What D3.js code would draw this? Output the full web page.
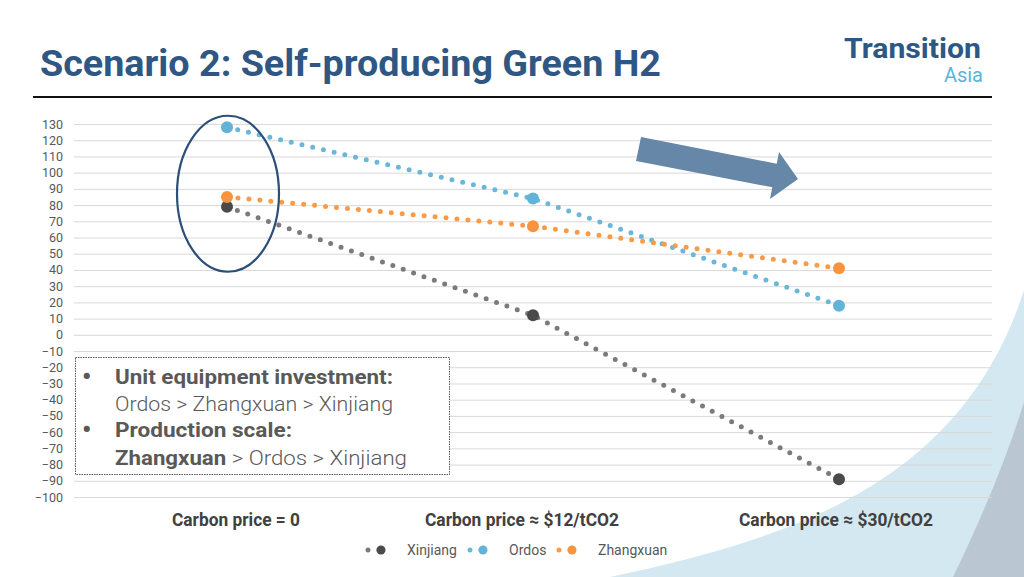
<!DOCTYPE html>
<html>
<head>
<meta charset="utf-8">
<script src="https://cdn.jsdelivr.net/npm/d3@7"></script>
<style>
	body { margin: 0; background: #fff; overflow: hidden; }
	text { font-family: Roboto, "DejaVu Sans", sans-serif; }
</style>
</head>
<body>
<div id="my_dataviz"></div>
<script>
// chart values
const categories = ["Carbon price = 0", "Carbon price ≈ $12/tCO2", "Carbon price ≈ $30/tCO2"];
const seriesNames = ["Xinjiang", "Ordos", "Zhangxuan"];
const xinjiang = [79, 12, -89];
const ordos = [128, 84, 18];
const zhangxuan = [85, 67, 41];
const yTickValues = [130, 120, 110, 100, 90, 80, 70, 60, 50, 40, 30, 20, 10, 0, -10, -20, -30, -40, -50, -60, -70, -80, -90, -100];

// slide size and plot box
const W = 1024, H = 577;
const margin = { top: 124, right: 32, bottom: 80, left: 74 },
	width = W - margin.left - margin.right,
	height = H - margin.top - margin.bottom;

const svg = d3.select("#my_dataviz")
	.append("svg")
	.attr("width", W)
	.attr("height", H);

// background swooshes bottom right
svg.append("path")
	.attr("d", "M610,577 C780,540 960,490 1024,290 L1024,577 Z")
	.attr("fill", "#d3e8f1");
svg.append("path")
	.attr("d", "M953,577 Q1000,480 1024,402 L1024,577 Z")
	.attr("fill", "#bac7d3");

// title + rule
svg.append("text")
	.attr("x", 40)
	.attr("y", 76)
	.attr("textLength", 621)
	.attr("lengthAdjust", "spacingAndGlyphs")
	.style("font-size", "36px")
	.style("font-weight", 700)
	.style("fill", "#2f5784")
	.text("Scenario 2: Self-producing Green H2");
svg.append("line")
	.attr("x1", 33).attr("x2", 992)
	.attr("y1", 97).attr("y2", 97)
	.attr("stroke", "#111")
	.attr("stroke-width", 2);

// logo
svg.append("text")
	.attr("x", 844)
	.attr("y", 58)
	.attr("textLength", 137)
	.attr("lengthAdjust", "spacingAndGlyphs")
	.style("font-size", "28px")
	.style("font-weight", 700)
	.style("fill", "#2d5886")
	.text("Transition");
svg.append("text")
	.attr("x", 983)
	.attr("y", 82)
	.attr("text-anchor", "end")
	.style("font-size", "20px")
	.style("font-weight", 400)
	.style("fill", "#5ab4da")
	.text("Asia");

const g = svg.append("g")
	.attr("transform", `translate(${margin.left},${margin.top})`);

// scales
const x = d3.scaleBand()
	.domain(categories)
	.range([0, width]);
const y = d3.scaleLinear()
	.domain([-100, 130])
	.range([height, 0]);

// gridlines
g.append("g")
	.call(d3.axisLeft(y).tickValues(yTickValues).tickSize(-width).tickFormat(""))
	.call(a => a.select(".domain").remove())
	.call(a => a.selectAll("line").attr("stroke", "#d9d9d9").attr("stroke-width", 1));

// y labels
g.append("g")
	.attr("transform", "translate(-11,0)")
	.call(d3.axisLeft(y).tickValues(yTickValues).tickSize(0).tickPadding(0))
	.call(a => a.select(".domain").remove())
	.call(a => a.selectAll("text")
		.style("font-size", "12.5px")
		.style("font-family", "Roboto, sans-serif")
		.style("fill", "#595959"));

// category labels (text boxes sit a little off the category centres)
const labelShift = [9, -11, -3];
g.append("g")
	.selectAll("text")
	.data(categories)
	.join("text")
	.attr("x", (d, i) => x(d) + x.bandwidth() / 2 + labelShift[i])
	.attr("y", height + 29)
	.attr("text-anchor", "middle")
	.attr("textLength", (d, i) => i === 0 ? 128 : 194)
	.attr("lengthAdjust", "spacingAndGlyphs")
	.style("font-size", "19px")
	.style("font-weight", 700)
	.style("fill", "#404040")
	.text(d => d);

// note box
const box = svg.append("g");
box.append("rect")
	.attr("x", 75.5).attr("y", 357.5)
	.attr("width", 374).attr("height", 117)
	.attr("fill", "#fff")
	.attr("stroke", "#555")
	.attr("stroke-width", 1)
	.attr("stroke-dasharray", "1.5,1");
const noteColor = "#595959";
[385, 438].forEach(yy => {
	box.append("text")
		.attr("x", 82).attr("y", yy)
		.style("font-size", "26px")
		.style("font-weight", 700)
		.style("fill", noteColor)
		.text("•");
});
box.append("text")
	.attr("x", 115).attr("y", 384)
	.attr("textLength", 278).attr("lengthAdjust", "spacingAndGlyphs")
	.style("font-size", "20px").style("font-weight", 700).style("fill", noteColor)
	.text("Unit equipment investment:");
box.append("text")
	.attr("x", 115).attr("y", 411)
	.attr("textLength", 278).attr("lengthAdjust", "spacingAndGlyphs")
	.style("font-size", "20px").style("font-weight", 300).style("fill", noteColor)
	.text("Ordos > Zhangxuan > Xinjiang");
box.append("text")
	.attr("x", 115).attr("y", 437)
	.attr("textLength", 177).attr("lengthAdjust", "spacingAndGlyphs")
	.style("font-size", "20px").style("font-weight", 700).style("fill", noteColor)
	.text("Production scale:");
const l4 = box.append("text")
	.attr("x", 115).attr("y", 465)
	.attr("textLength", 292).attr("lengthAdjust", "spacingAndGlyphs")
	.style("font-size", "20px").style("fill", noteColor);
l4.append("tspan").style("font-weight", 700).text("Zhangxuan");
l4.append("tspan").style("font-weight", 300).text(" > Ordos > Xinjiang");

// series
const dataReady = [
	{ name: "Xinjiang", values: xinjiang, line: "#7b7b7b", dot: "#4a4a4a" },
	{ name: "Ordos", values: ordos, line: "#6ab7d9", dot: "#62b3d7" },
	{ name: "Zhangxuan", values: zhangxuan, line: "#fb9a48", dot: "#f8943f" }
];

const line = d3.line()
	.x((d, i) => x(categories[i]) + x.bandwidth() / 2)
	.y(d => y(d));

g.selectAll("myLines")
	.data(dataReady)
	.join("path")
	.attr("d", d => line(d.values))
	.attr("stroke", d => d.line)
	.attr("stroke-width", 5)
	.attr("stroke-linecap", "round")
	.attr("stroke-dasharray", "0,11")
	.style("fill", "none");

g.selectAll("myDots")
	.data(dataReady)
	.join("g")
	.style("fill", d => d.dot)
	.selectAll("circle")
	.data(d => d.values)
	.join("circle")
	.attr("cx", (d, i) => x(categories[i]) + x.bandwidth() / 2)
	.attr("cy", d => y(d))
	.attr("r", 6);

// ellipse round the zero-price values
g.append("ellipse")
	.attr("cx", x(categories[0]) + x.bandwidth() / 2 + 1)
	.attr("cy", y(87))
	.attr("rx", 51)
	.attr("ry", 78)
	.attr("fill", "none")
	.attr("stroke", "#2c4f7a")
	.attr("stroke-width", 2.2);

// arrow
svg.append("polygon")
	.attr("points", "641,137 776.7,163.7 779,152 798,179 770,199 772.3,187.3 636,161")
	.attr("fill", "#6787a9");

// legend
const legendX = [368, 470, 559];
const legend = svg.append("g")
	.selectAll("g")
	.data(dataReady)
	.join("g")
	.attr("transform", (d, i) => `translate(${legendX[i]},550)`);
legend.append("line")
	.attr("x1", 0).attr("x2", 22)
	.attr("stroke", d => d.line)
	.attr("stroke-width", 5)
	.attr("stroke-linecap", "round")
	.attr("stroke-dasharray", "0,11");
legend.append("circle")
	.attr("cx", 13).attr("r", 4.5)
	.style("fill", d => d.dot);
legend.append("text")
	.attr("x", 39).attr("y", 5)
	.style("font-size", "14px")
	.style("fill", "#595959")
	.text(d => d.name);
</script>
</body>
</html>
